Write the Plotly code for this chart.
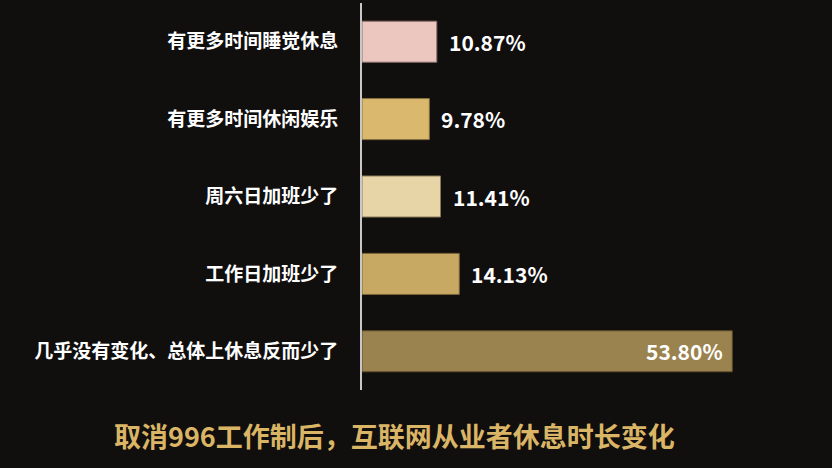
import plotly.graph_objects as go

categories = ["有更多时间睡觉休息", "有更多时间休闲娱乐", "周六日加班少了", "工作日加班少了", "几乎没有变化、总体上休息反而少了"]
values = [10.87, 9.78, 11.41, 14.13, 53.80]
bar_colors = ["#ecc7bf", "#dab96f", "#e8d5a7", "#c8a964", "#9b834f"]
line_colors = ["#8a6e68", "#8a7040", "#8a7a58", "#7a6638", "#5e4e2c"]
title_text = "取消996工作制后，互联网从业者休息时长变化"

BG = "#110e0e"
FONT = "Noto Sans CJK SC"

fig = go.Figure()
fig.add_trace(go.Bar(
    x=values, y=categories, orientation="h",
    marker=dict(color=bar_colors, line=dict(color=line_colors, width=1)),
    width=0.53, hoverinfo="skip",
))

# value labels: outside for short bars, inside end for the long one
for cat, v in zip(categories, values):
    inside = v > 40
    fig.add_annotation(
        x=v, y=cat, text=f"<b>{v:.2f}%</b>", showarrow=False,
        xanchor="right" if inside else "left",
        xshift=-7 if inside else 10,
        font=dict(family=FONT, size=21, color="white"),
    )

fig.update_layout(
    width=832, height=468,
    paper_bgcolor=BG, plot_bgcolor=BG,
    margin=dict(l=362, r=2, t=3, b=78),
    showlegend=False,
    title=dict(
        text=f"<b>{title_text}</b>", x=0.474, xanchor="center",
        y=0.066, yanchor="middle",
        font=dict(family=FONT, size=27, color="#d9b565"),
    ),
    xaxis=dict(range=[0, 68], visible=False, showgrid=False, zeroline=False),
    yaxis=dict(
        autorange="reversed", showgrid=False, zeroline=False,
        showline=True, linecolor="#c8c8c8", linewidth=2,
        ticks="", ticklabelstandoff=18,
        tickfont=dict(family=FONT, size=19, color="white", weight="bold"),
    ),
)

fig.write_html("out.html", config={"displayModeBar": False},
               post_script="document.body.style.margin='0';")
